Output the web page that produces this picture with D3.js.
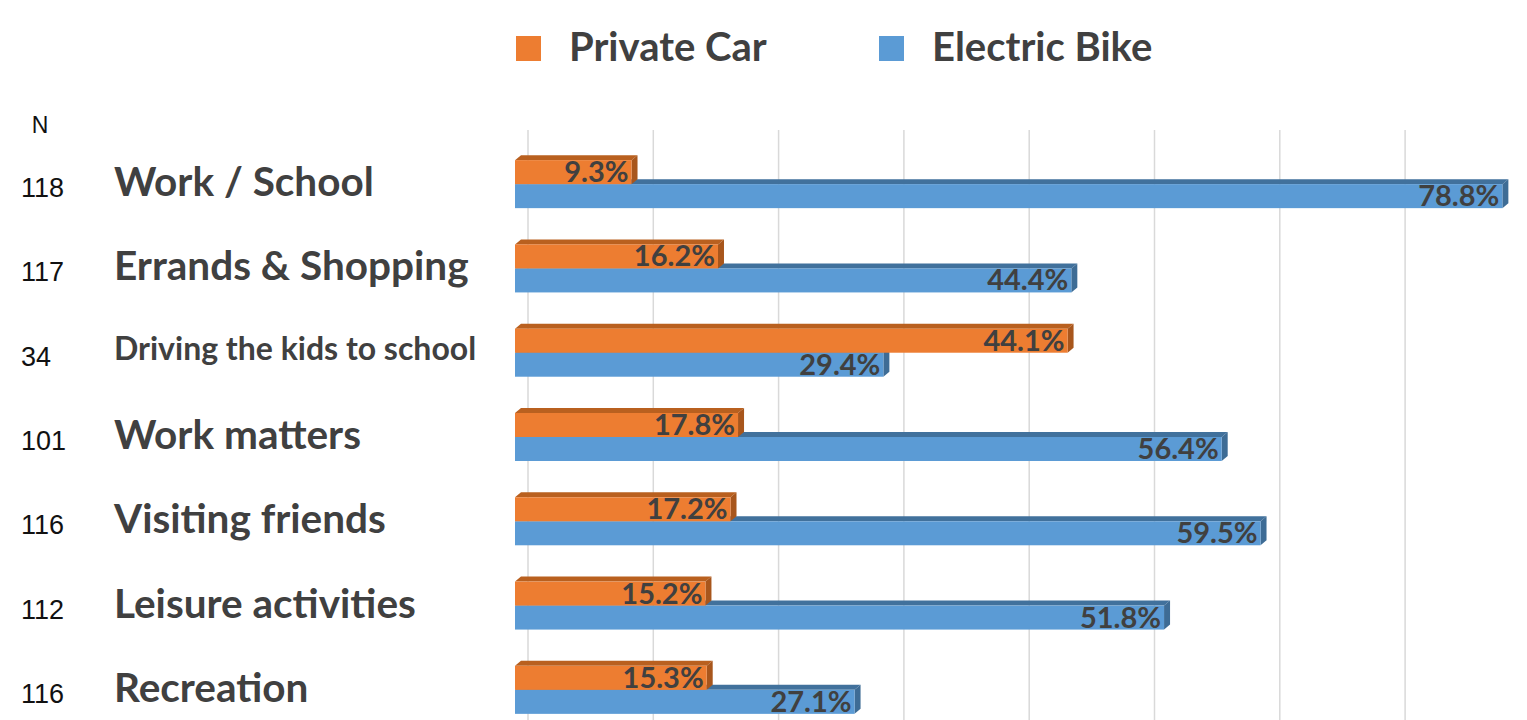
<!DOCTYPE html>
<html>
<head>
<meta charset="utf-8">
<script src="https://cdn.jsdelivr.net/npm/d3@7"></script>
<style>
  html, body { margin: 0; padding: 0; background: #fff; }
  svg { display: block; }
</style>
</head>
<body>
<svg id="chart" width="1527" height="720"></svg>
<script>
// ---- data ----
const categories = ["Work / School", "Errands & Shopping", "Driving the kids to school", "Work matters", "Visiting friends", "Leisure activities", "Recreation"];
const nValues = [118, 117, 34, 101, 116, 112, 116];
const series = ["Private Car", "Electric Bike"];
const privateCar = [9.3, 16.2, 44.1, 17.8, 17.2, 15.2, 15.3];
const electricBike = [78.8, 44.4, 29.4, 56.4, 59.5, 51.8, 27.1];
const gridTicks = [0, 10, 20, 30, 40, 50, 60, 70];

// ---- styles ----
const colors = {
  "Private Car":   { front: "#ED7D31", top: "#B9601F", side: "#A8561C" },
  "Electric Bike": { front: "#5B9BD5", top: "#41719C", side: "#3E6C95" }
};
const textColor = "#404040";
const labelFont = "Lato, 'Open Sans', sans-serif";

const svg = d3.select("#chart");

const x = d3.scaleLinear().domain([0, 80]).range([515, 515 + 80 * 12.53]);
const y = d3.scaleBand().domain(categories).range([142, 732]).padding(0);
const barH = 24;
const dx = 6, dy = 5, wallOffset = 13;

// gridlines on the back wall
svg.append("g").selectAll("line").data(gridTicks).join("line")
  .attr("x1", d => x(d) + wallOffset).attr("x2", d => x(d) + wallOffset)
  .attr("y1", 130).attr("y2", 720)
  .attr("stroke", "#d9d9d9").attr("stroke-width", 1.5);

// legend
const legend = svg.append("g");
const legendX = [516, 879];
series.forEach((s, i) => {
  legend.append("rect").attr("x", legendX[i]).attr("y", 36).attr("width", 25).attr("height", 25)
    .attr("fill", colors[s].front);
  legend.append("text").attr("x", legendX[i] + 53).attr("y", 61)
    .attr("font-family", labelFont).attr("font-weight", 700).attr("font-size", 40)
    .attr("fill", textColor).text(s);
});

// N header
svg.append("text").attr("x", 40).attr("y", 133).attr("text-anchor", "middle")
  .attr("font-family", "'Liberation Sans', Arial, sans-serif").attr("font-size", 23)
  .attr("fill", "#111").text("N");

const rows = categories.map((c, i) => ({
  cat: c, n: nValues[i],
  vals: [{ s: "Electric Bike", v: electricBike[i], k: 1 }, { s: "Private Car", v: privateCar[i], k: 0 }]
}));

const row = svg.append("g").selectAll("g").data(rows).join("g");

// N values
row.append("text")
  .attr("x", 21).attr("y", d => y(d.cat) + y.bandwidth() / 2 + 13)
  .attr("font-family", "'Liberation Sans', Arial, sans-serif").attr("font-size", 27)
  .attr("fill", "#111").text(d => d.n);

// category labels
row.append("text")
  .attr("x", 114)
  .attr("y", d => y(d.cat) + y.bandwidth() / 2 + (d.cat.length > 20 ? 7 : 12))
  .attr("font-family", labelFont).attr("font-weight", 700)
  .attr("font-size", d => d.cat.length > 20 ? 32 : 40.5)
  .attr("fill", textColor).text(d => d.cat);

// bars (Electric Bike drawn first, so the car bar sits in front of its top face)
function barGeom(d, cat) {
  const c = y(cat) + y.bandwidth() / 2;
  const y0 = d.k === 0 ? c - barH : c;
  return { x0: x(0), x1: x(d.v), y0, y1: y0 + barH };
}

const bars = row.selectAll("g.bar").data(d => d.vals.map(v => ({ ...v, cat: d.cat }))).join("g").attr("class", "bar");

bars.each(function(d) {
  const g = d3.select(this);
  const b = barGeom(d, d.cat);
  const col = colors[d.s];
  // top face
  g.append("path")
    .attr("d", `M${b.x0},${b.y0} L${b.x0 + dx},${b.y0 - dy} L${b.x1 + dx},${b.y0 - dy} L${b.x1},${b.y0} Z`)
    .attr("fill", col.top);
  // side face
  g.append("path")
    .attr("d", `M${b.x1},${b.y0} L${b.x1 + dx},${b.y0 - dy} L${b.x1 + dx},${b.y1 - dy} L${b.x1},${b.y1} Z`)
    .attr("fill", col.side);
  // front face
  g.append("rect").attr("x", b.x0).attr("y", b.y0).attr("width", b.x1 - b.x0).attr("height", barH)
    .attr("fill", col.front);
  // value label
  g.append("text")
    .attr("x", b.x1 - 3).attr("y", b.y0 + barH / 2 + 10)
    .attr("text-anchor", "end")
    .attr("font-family", labelFont).attr("font-weight", 700).attr("font-size", 29)
    .attr("fill", textColor).text(d3.format(".1f")(d.v) + "%");
});
</script>
</body>
</html>
